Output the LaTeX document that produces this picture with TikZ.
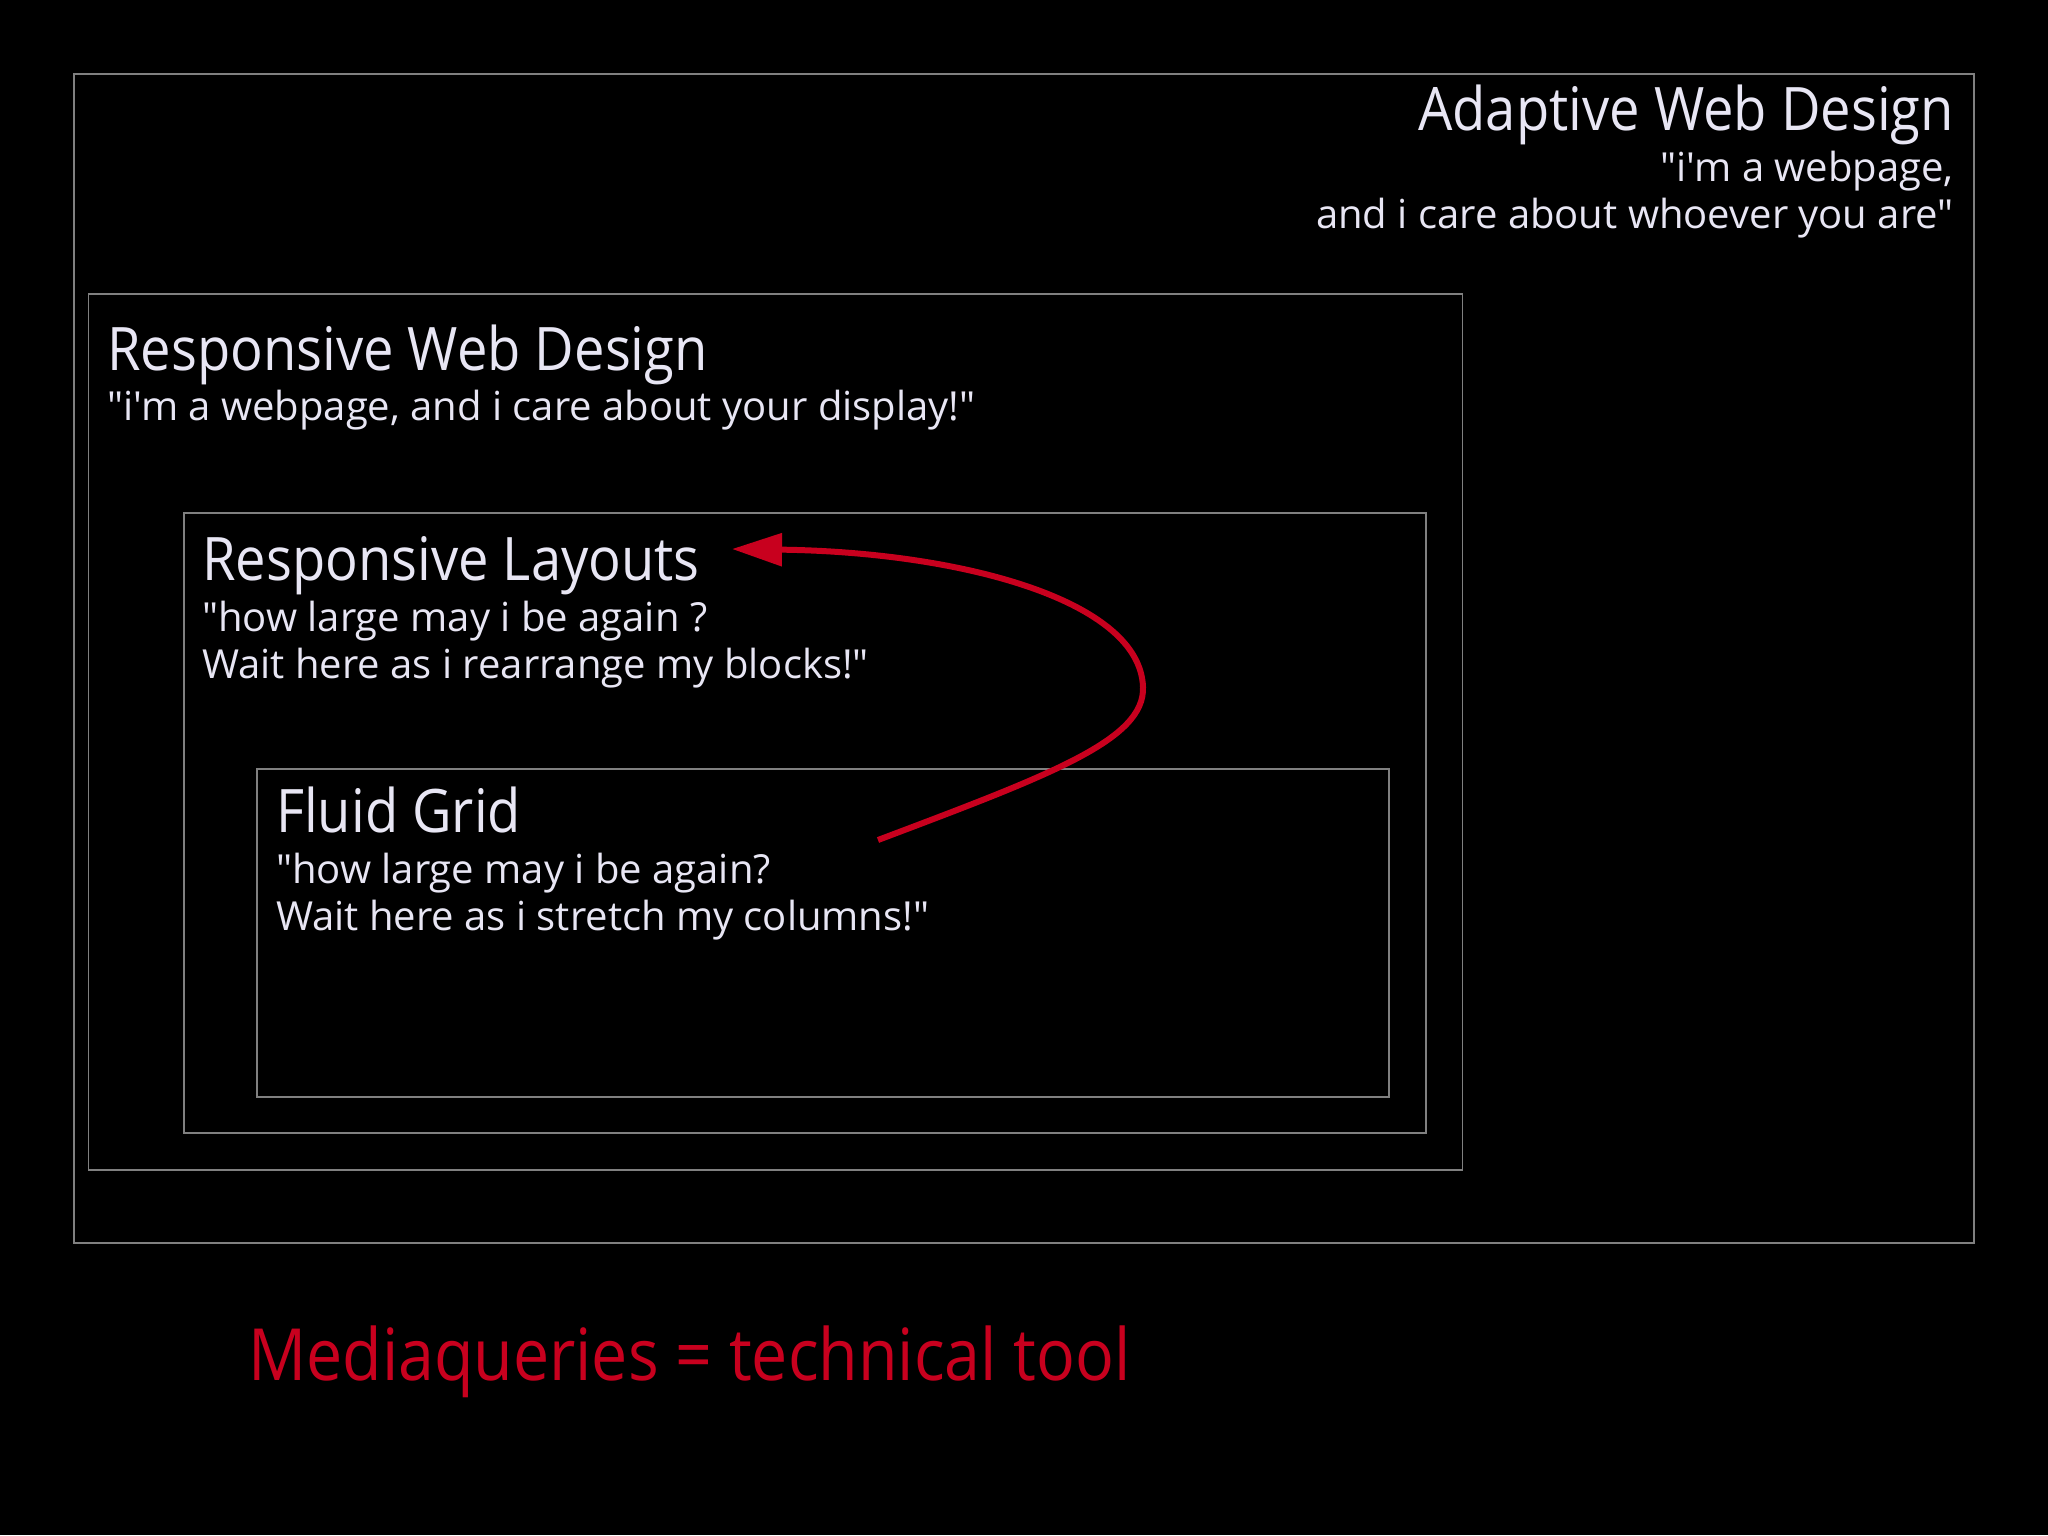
\documentclass[tikz,border=0pt]{standalone}
\usepackage{fontspec}
\setmainfont{Open Sans}[Ligatures=TeXOff]
\newfontfamily\ttlfont{Open Sans}[Ligatures=TeXOff,FakeStretch=0.905]
\newfontfamily\redfont{Open Sans}[Ligatures=TeXOff,FakeStretch=0.895]
\usetikzlibrary{arrows.meta}
\definecolor{txt}{HTML}{E8E6F4}
\definecolor{accent}{HTML}{C8001E}
\definecolor{frame}{HTML}{808080}
\tikzset{
  boxst/.style={draw=frame, line width=1.6pt, inner sep=0pt, anchor=north west},
  ttl/.style={text=txt, inner sep=0pt, font=\ttlfont\fontsize{60}{72}\selectfont},
  sub/.style={text=txt, inner sep=0pt, font=\fontsize{40}{48}\selectfont},
  red/.style={text=accent, inner sep=0pt, font=\redfont\fontsize{72}{86}\selectfont},
}
\begin{document}
\begin{tikzpicture}[x=1pt,y=-1pt]
\fill[black] (0,0) rectangle (2048,1535);
\useasboundingbox (0,0) rectangle (2048,1535);
% boxes
\node[boxst, minimum width=1900pt, minimum height=1169pt] (awd) at (73,73) {};
\node[boxst, minimum width=1374pt, minimum height=876pt] (rwd) at (87.5,293) {};
\node[boxst, minimum width=1242pt, minimum height=620pt] (rl) at (183,512) {};
\node[boxst, minimum width=1132pt, minimum height=328pt] (fg) at (256,768) {};
% Adaptive
\node[ttl, anchor=base east] (awdt) at (1954,130) {Adaptive Web Design};
\node[sub, anchor=base east] (awds1) at (1954,181) {"i'm a webpage,};
\node[sub, anchor=base east] (awds2) at (1954,228) {and i care about whoever you are"};
% Responsive web design
\node[ttl, anchor=base west] (rwdt) at (107,370) {Responsive Web Design};
\node[sub, anchor=base west] (rwds) at (107,420) {"i'm a webpage, and i care about your display!"};
% Responsive layouts
\node[ttl, anchor=base west] (rlt) at (202,580) {Responsive Layouts};
\node[sub, anchor=base west] (rls1) at (202,631) {"how large may i be again ?};
\node[sub, anchor=base west] (rls2) at (202,678) {Wait here as i rearrange my blocks!"};
% Fluid grid
\node[ttl, anchor=base west] (fgt) at (276,832) {Fluid Grid};
\node[sub, anchor=base west] (fgs1) at (276,883) {"how large may i be again?};
\node[sub, anchor=base west] (fgs2) at (276,930) {Wait here as i stretch my columns!"};
% bottom
\node[red, anchor=base west] (mq) at (248,1380) {Mediaqueries = technical tool};
% arrow
\coordinate (as) at (878,840);
\coordinate (ae) at (732,549);
\draw[accent, line width=6pt, -{Triangle[length=50pt,width=32pt]}]
  (as) .. controls (1050,775) and (1145,740) .. (1143,687)
       .. controls (1140,600) and (960,552) .. (ae);
\end{tikzpicture}
\end{document}
